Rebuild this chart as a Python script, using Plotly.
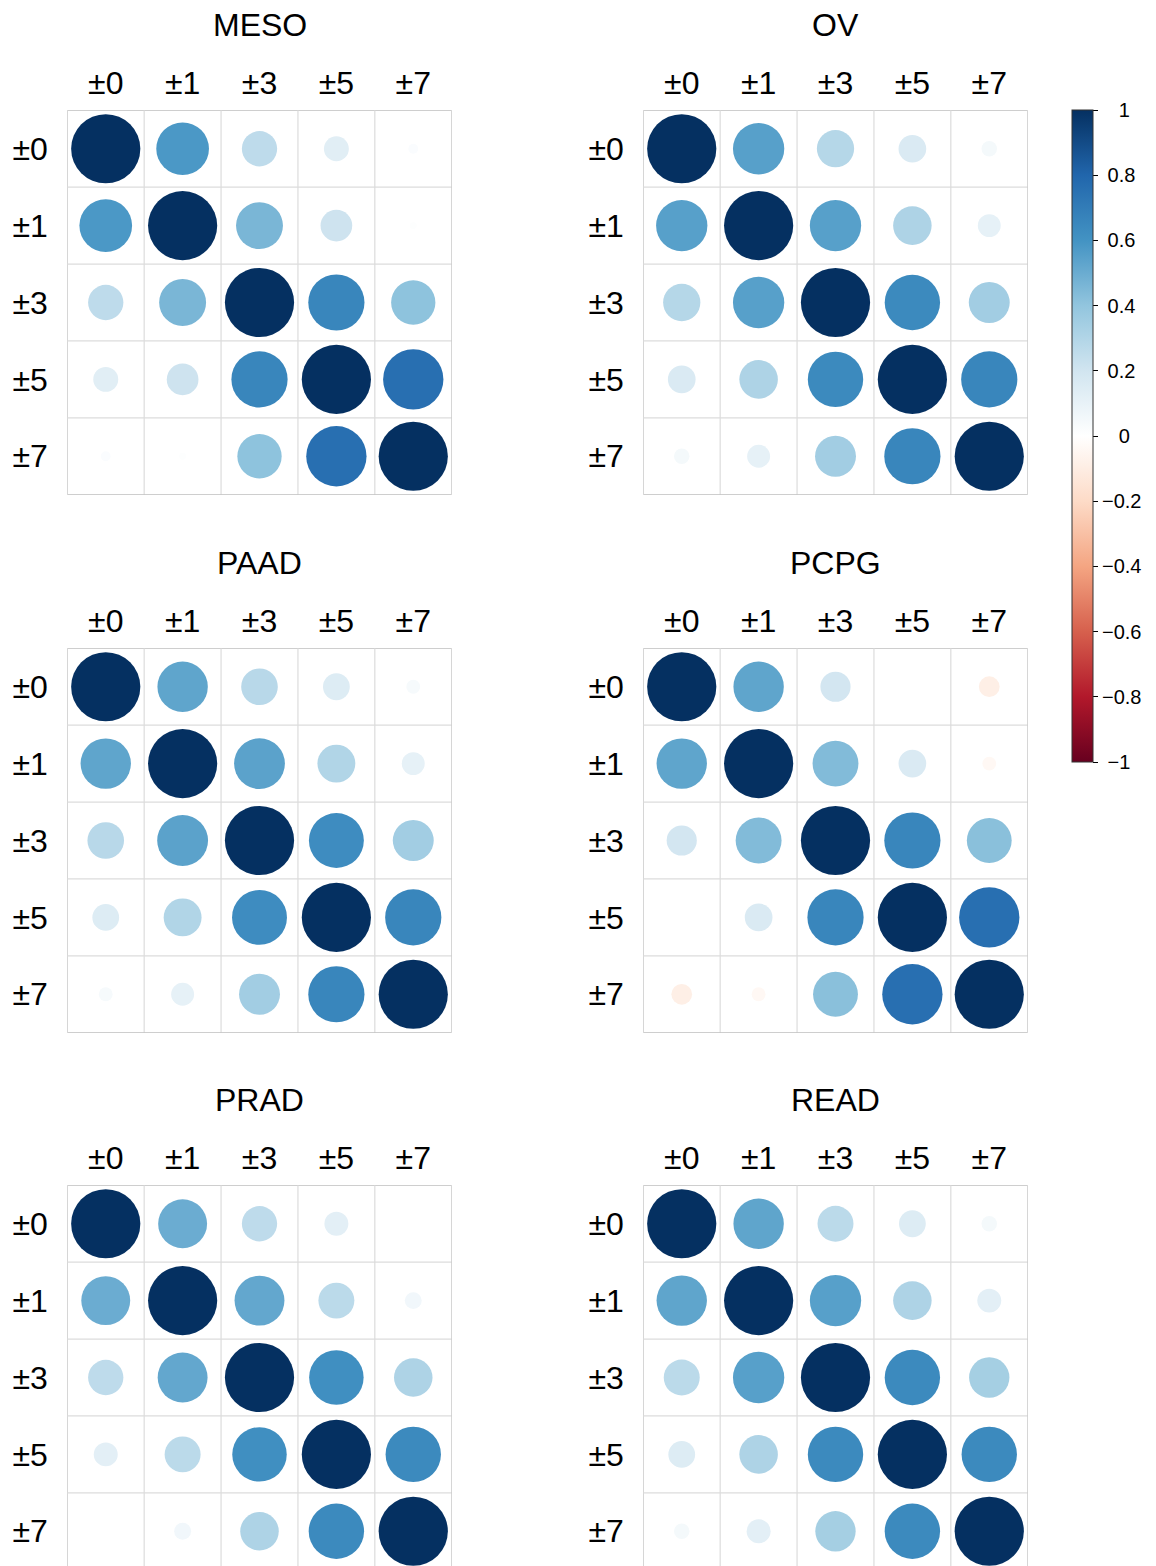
import numpy as np
import plotly.graph_objects as go

W, H = 1156, 1566
OFF = 8  # page body margin compensation

labels = ["±0", "±1", "±3", "±5", "±7"]
panel_names = ["MESO", "OV", "PAAD", "PCPG", "PRAD", "READ"]

MESO = [
    [1.00, 0.58, 0.26, 0.13, 0.02],
    [0.58, 1.00, 0.46, 0.21, 0.01],
    [0.26, 0.46, 1.00, 0.66, 0.41],
    [0.13, 0.21, 0.66, 1.00, 0.76],
    [0.02, 0.01, 0.41, 0.76, 1.00],
]
OV = [
    [1.00, 0.55, 0.29, 0.16, 0.05],
    [0.55, 1.00, 0.55, 0.31, 0.11],
    [0.29, 0.55, 1.00, 0.64, 0.35],
    [0.16, 0.31, 0.64, 1.00, 0.66],
    [0.05, 0.11, 0.35, 0.66, 1.00],
]
PAAD = [
    [1.00, 0.53, 0.28, 0.15, 0.04],
    [0.53, 1.00, 0.54, 0.30, 0.11],
    [0.28, 0.54, 1.00, 0.63, 0.35],
    [0.15, 0.30, 0.63, 1.00, 0.66],
    [0.04, 0.11, 0.35, 0.66, 1.00],
]
PCPG = [
    [1.00, 0.53, 0.19, 0.002, -0.09],
    [0.53, 1.00, 0.44, 0.16, -0.04],
    [0.19, 0.44, 1.00, 0.66, 0.42],
    [0.002, 0.16, 0.66, 1.00, 0.76],
    [-0.09, -0.04, 0.42, 0.76, 1.00],
]
PRAD = [
    [1.00, 0.50, 0.26, 0.12, 0.001],
    [0.50, 1.00, 0.52, 0.27, 0.06],
    [0.26, 0.52, 1.00, 0.62, 0.31],
    [0.12, 0.27, 0.62, 1.00, 0.64],
    [0.001, 0.06, 0.31, 0.64, 1.00],
]
READ = [
    [1.00, 0.53, 0.27, 0.15, 0.05],
    [0.53, 1.00, 0.55, 0.31, 0.12],
    [0.27, 0.55, 1.00, 0.64, 0.34],
    [0.15, 0.31, 0.64, 1.00, 0.64],
    [0.05, 0.12, 0.34, 0.64, 1.00],
]
matrices = [MESO, OV, PAAD, PCPG, PRAD, READ]

cbar_ticks = [1, 0.8, 0.6, 0.4, 0.2, 0, -0.2, -0.4, -0.6, -0.8, -1]
SP1 = "\u2008"          # punctuation space, to centre labels like the original
SP2 = "\u2008\u2008\u2008"
cbar_text = [SP2 + "1", SP1 + "0.8", SP1 + "0.6", SP1 + "0.4", SP1 + "0.2", SP2 + "0",
             "\u22120.2", "\u22120.4", "\u22120.6", "\u22120.8", SP1 + "\u22121"]

rdbu = ["#67001F", "#B2182B", "#D6604D", "#F4A582", "#FDDBC7", "#FFFFFF",
        "#D1E5F0", "#92C5DE", "#4393C3", "#2166AC", "#053061"]
colorscale = [[i / 10, c] for i, c in enumerate(rdbu)]

# layout geometry (page pixels, converted to figure pixels by OFF)
col_x0 = [67.3 - OFF, 643.3 - OFF]
row_y0 = [110.3 - OFF, 648.3 - OFF, 1185.3 - OFF]
S = 384.4
cell = S / 5
FONT = "Liberation Sans, Arial, sans-serif"

fig = go.Figure()
annotations = []
shapes = []

for i, (name, mat) in enumerate(zip(panel_names, matrices)):
    c, r = i % 2, i // 2
    ax = "" if i == 0 else str(i + 1)
    x0 = col_x0[c]
    yt = row_y0[r]
    yb = min(yt + S, H)
    vis = (yb - yt) / cell
    m = np.array(mat)
    xs, ys, vals = [], [], []
    for ri in range(5):
        for ci in range(5):
            xs.append(ci + 1)
            ys.append(ri + 1)
            vals.append(m[ri, ci])
    vals = np.array(vals)
    sizes = 0.9 * np.sqrt(np.abs(vals)) * cell
    fig.add_trace(go.Scatter(
        x=xs, y=ys, mode="markers",
        marker=dict(size=sizes, sizemode="diameter", color=vals,
                    coloraxis="coloraxis", line=dict(width=0), opacity=1),
        xaxis="x" + ax, yaxis="y" + ax, showlegend=False, hoverinfo="skip",
    ))
    fig.layout["xaxis" + ax] = dict(
        domain=[x0 / W, (x0 + S) / W], range=[0.5, 5.5], anchor="y" + ax,
        side="top", tickvals=[1, 2, 3, 4, 5], ticktext=labels,
        tickfont=dict(size=32, color="black", family=FONT),
        ticks="outside", ticklen=3, tickcolor="rgba(0,0,0,0)",
        showgrid=False, zeroline=False, showline=False, fixedrange=True,
    )
    fig.layout["yaxis" + ax] = dict(
        domain=[1 - yb / H, 1 - yt / H], range=[0.5 + vis, 0.5], anchor="x" + ax,
        tickvals=[1, 2, 3, 4, 5], ticktext=labels,
        tickfont=dict(size=32, color="black", family=FONT),
        ticks="outside", ticklen=12, tickcolor="rgba(0,0,0,0)",
        showgrid=False, zeroline=False, showline=False, fixedrange=True,
    )
    # grid lines
    for k in range(6):
        pos = 0.5 + k
        col = "#BEBEBE" if k in (0, 5) else "#DCDCDC"
        shapes.append(dict(type="line", xref="x" + ax, yref="y" + ax,
                           x0=pos, x1=pos, y0=0.5, y1=5.5,
                           line=dict(color=col, width=1.2), layer="below"))
        shapes.append(dict(type="line", xref="x" + ax, yref="y" + ax,
                           x0=0.5, x1=5.5, y0=pos, y1=pos,
                           line=dict(color=col, width=1.2), layer="below"))
    annotations.append(dict(
        text=name, x=(x0 + S / 2) / W, y=1 - (yt - 85) / H,
        xref="paper", yref="paper", xanchor="center", yanchor="middle",
        showarrow=False, font=dict(size=32, color="black", family=FONT),
    ))

fig.update_layout(
    width=W, height=H,
    margin=dict(l=0, r=0, t=0, b=0),
    paper_bgcolor="white", plot_bgcolor="white",
    annotations=annotations, shapes=shapes,
    coloraxis=dict(
        colorscale=colorscale, cmin=-1, cmax=1,
        colorbar=dict(
            x=(1072 - OFF) / W, xanchor="left", xpad=0,
            y=1 - (436 - OFF) / H, yanchor="middle", ypad=0,
            thickness=21, len=652, lenmode="pixels",
            outlinewidth=1, outlinecolor="#333333",
            tickvals=cbar_ticks, ticktext=cbar_text,
            ticks="outside", ticklen=5, tickcolor="black", tickwidth=1,
            tickfont=dict(size=20, color="black", family=FONT),
        ),
    ),
)

fig.write_html("out.html")
